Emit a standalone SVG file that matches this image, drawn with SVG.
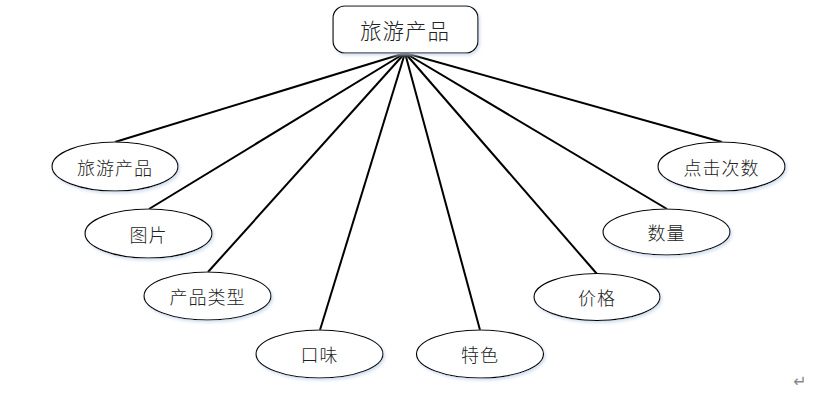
<svg xmlns="http://www.w3.org/2000/svg" width="837" height="395" viewBox="0 0 837 395">
<defs>
<filter id="sh" x="-20%" y="-30%" width="140%" height="160%">
<feDropShadow dx="1.5" dy="2" stdDeviation="1.5" flood-color="#c8d8ee" flood-opacity="0.8"/>
</filter>
</defs>
<style>
.n{fill:#fff;stroke:#000;stroke-width:1.2;filter:url(#sh)}
.t{font-family:"Noto Sans CJK SC","Noto Sans",sans-serif;font-size:18px;font-weight:300;fill:#222;text-anchor:middle;dominant-baseline:central;letter-spacing:1px}
.c{stroke:#000;stroke-width:2;fill:none}
</style>
<rect width="837" height="395" fill="#fff"/>
<g id="connectors">
<line class="c" x1="405" y1="53" x2="115" y2="142"/>
<line class="c" x1="405" y1="53" x2="149" y2="209"/>
<line class="c" x1="405" y1="53" x2="208" y2="272"/>
<line class="c" x1="405" y1="53" x2="320" y2="330"/>
<line class="c" x1="405" y1="53" x2="480" y2="330"/>
<line class="c" x1="405" y1="53" x2="597" y2="274"/>
<line class="c" x1="405" y1="53" x2="667" y2="209"/>
<line class="c" x1="405" y1="53" x2="722" y2="142"/>
</g>
<g id="root">
<rect class="n" x="333" y="6" width="145" height="47" rx="12"/>
<text class="t" x="405" y="29" style="font-size:21.5px">旅游产品</text>
</g>
<g id="n1"><ellipse class="n" cx="115" cy="166.5" rx="63" ry="24.5"/><text class="t" x="115" y="166.5">旅游产品</text></g>
<g id="n2"><ellipse class="n" cx="148.5" cy="233.5" rx="63.5" ry="24.5"/><text class="t" x="148.5" y="233.5">图片</text></g>
<g id="n3"><ellipse class="n" cx="207.5" cy="296" rx="63.5" ry="24"/><text class="t" x="207.5" y="296">产品类型</text></g>
<g id="n4"><ellipse class="n" cx="319.5" cy="354" rx="63.5" ry="24"/><text class="t" x="319.5" y="354">口味</text></g>
<g id="n5"><ellipse class="n" cx="480" cy="354" rx="63.5" ry="24"/><text class="t" x="480" y="354">特色</text></g>
<g id="n6"><ellipse class="n" cx="597" cy="297" rx="63" ry="23.5"/><text class="t" x="597" y="297">价格</text></g>
<g id="n7"><ellipse class="n" cx="666.5" cy="232" rx="63.5" ry="23"/><text class="t" x="666.5" y="232">数量</text></g>
<g id="n8"><ellipse class="n" cx="721.5" cy="166.5" rx="63.5" ry="24.5"/><text class="t" x="721.5" y="166.5">点击次数</text></g>
<text x="800" y="387" style="font-family:'DejaVu Sans',sans-serif;font-size:16px;fill:#888" text-anchor="middle">↵</text>
</svg>
